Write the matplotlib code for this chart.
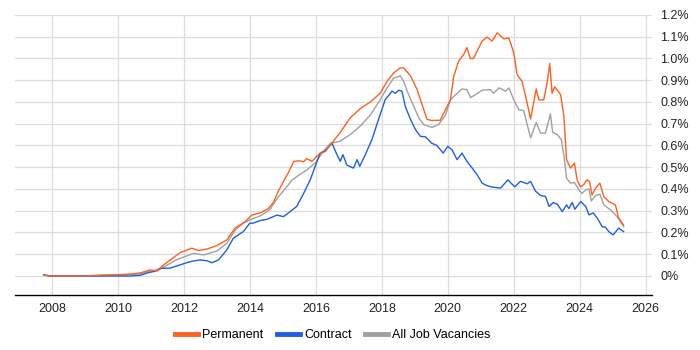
import matplotlib.pyplot as plt
from matplotlib.lines import Line2D

plt.switch_backend('Agg')
plt.rcParams['font.family'] = ['Liberation Sans', 'DejaVu Sans']

# Valores (ano decimal, % das vagas)
perm_anos = [2007.75, 2008.0, 2009.0, 2009.5, 2010.0, 2010.37, 2010.67, 2010.97, 2011.18, 2011.38,
             2011.6, 2011.88, 2012.24, 2012.44, 2012.7, 2013.0, 2013.3, 2013.55, 2013.86, 2014.06,
             2014.31, 2014.56, 2014.72, 2014.86, 2015.02, 2015.15, 2015.33, 2015.5, 2015.62, 2015.73,
             2015.88, 2016.13, 2016.34, 2016.74, 2017.04, 2017.35, 2017.65, 2017.95, 2018.16, 2018.36,
             2018.56, 2018.66, 2018.87, 2019.07, 2019.22, 2019.37, 2019.52, 2019.77, 2019.93, 2020.08,
             2020.18, 2020.33, 2020.48, 2020.58, 2020.68, 2020.78, 2020.89, 2021.04, 2021.19, 2021.34,
             2021.5, 2021.7, 2021.85, 2022.0, 2022.1, 2022.25, 2022.36, 2022.51, 2022.68, 2022.76,
             2022.91, 2023.01, 2023.09, 2023.16, 2023.24, 2023.42, 2023.52, 2023.6, 2023.72, 2023.84,
             2023.92, 2024.02, 2024.12, 2024.22, 2024.3, 2024.37, 2024.48, 2024.61, 2024.73, 2024.88,
             2025.08, 2025.18, 2025.33]
perm_vals = [0.004, 0.0, 0.0, 0.004, 0.006, 0.009, 0.014, 0.028, 0.024, 0.05,
             0.075, 0.107, 0.128, 0.117, 0.124, 0.14, 0.166, 0.22, 0.25, 0.28,
             0.29, 0.31, 0.34, 0.39, 0.435, 0.47, 0.527, 0.53, 0.525, 0.54,
             0.527, 0.565, 0.584, 0.66, 0.727, 0.77, 0.80, 0.84, 0.895, 0.934,
             0.957, 0.957, 0.92, 0.857, 0.788, 0.72, 0.715, 0.716, 0.765, 0.81,
             0.918, 0.988, 1.018, 1.05, 1.0, 1.0, 1.034, 1.08, 1.098, 1.08,
             1.118, 1.09, 1.095, 1.026, 0.926, 0.895, 0.826, 0.722, 0.86, 0.81,
             0.81, 0.888, 0.977, 0.84, 0.87, 0.834, 0.734, 0.535, 0.496, 0.519,
             0.442, 0.41, 0.42, 0.442, 0.435, 0.373, 0.404, 0.427, 0.365, 0.342,
             0.327, 0.266, 0.235]

contr_anos = [2007.75, 2007.9, 2009.5, 2010.37, 2010.67, 2010.87, 2011.07, 2011.28, 2011.58, 2011.78,
              2012.19, 2012.49, 2012.7, 2012.85, 2013.05, 2013.3, 2013.5, 2013.8, 2014.0, 2014.1,
              2014.31, 2014.51, 2014.82, 2015.02, 2015.22, 2015.42, 2015.63, 2015.83, 2015.98, 2016.13,
              2016.28, 2016.49, 2016.64, 2016.74, 2016.82, 2016.94, 2017.14, 2017.25, 2017.33, 2017.5,
              2017.7, 2017.9, 2018.1, 2018.31, 2018.41, 2018.51, 2018.61, 2018.71, 2018.87, 2019.02,
              2019.17, 2019.32, 2019.52, 2019.67, 2019.86, 2020.0, 2020.13, 2020.28, 2020.43, 2020.58,
              2020.74, 2020.89, 2021.04, 2021.19, 2021.34, 2021.6, 2021.82, 2022.03, 2022.2, 2022.41,
              2022.51, 2022.66, 2022.81, 2022.96, 2023.07, 2023.2, 2023.32, 2023.47, 2023.6, 2023.67,
              2023.77, 2023.85, 2024.03, 2024.18, 2024.28, 2024.41, 2024.53, 2024.68, 2024.78, 2024.88,
              2025.01, 2025.18, 2025.33]
contr_vals = [0.006, 0.0, 0.0, 0.0, 0.003, 0.013, 0.02, 0.035, 0.036, 0.046,
              0.066, 0.074, 0.07, 0.061, 0.074, 0.12, 0.174, 0.204, 0.243, 0.243,
              0.255, 0.26, 0.28, 0.273, 0.296, 0.32, 0.38, 0.442, 0.504, 0.565,
              0.573, 0.61, 0.558, 0.527, 0.558, 0.51, 0.496, 0.535, 0.504, 0.558,
              0.627, 0.72, 0.81, 0.85, 0.84, 0.854, 0.85, 0.78, 0.72, 0.673,
              0.642, 0.64, 0.61, 0.6, 0.565, 0.596, 0.58, 0.535, 0.565, 0.527,
              0.496, 0.465, 0.427, 0.415, 0.409, 0.404, 0.442, 0.41, 0.435, 0.424,
              0.435, 0.39, 0.37, 0.366, 0.32, 0.338, 0.33, 0.296, 0.327, 0.31,
              0.338, 0.307, 0.342, 0.32, 0.281, 0.29, 0.266, 0.227, 0.224, 0.204,
              0.189, 0.22, 0.204]

todas_anos = [2007.75, 2008.0, 2009.5, 2010.37, 2010.67, 2010.97, 2011.18, 2011.38, 2011.78, 2012.29,
              2012.6, 2013.0, 2013.3, 2013.55, 2013.8, 2014.0, 2014.31, 2014.6, 2014.87, 2015.12,
              2015.27, 2015.42, 2015.73, 2015.98, 2016.23, 2016.44, 2016.74, 2016.94, 2017.04, 2017.35,
              2017.65, 2017.95, 2018.16, 2018.36, 2018.56, 2018.66, 2018.81, 2018.97, 2019.12, 2019.27,
              2019.52, 2019.72, 2019.93, 2020.08, 2020.28, 2020.43, 2020.58, 2020.69, 2020.84, 2021.04,
              2021.29, 2021.39, 2021.55, 2021.75, 2021.85, 2022.0, 2022.15, 2022.3, 2022.51, 2022.68,
              2022.81, 2022.96, 2023.11, 2023.18, 2023.32, 2023.44, 2023.52, 2023.6, 2023.72, 2023.84,
              2023.97, 2024.07, 2024.18, 2024.28, 2024.35, 2024.48, 2024.61, 2024.73, 2024.93, 2025.13,
              2025.33]
todas_vals = [0.004, 0.0, 0.002, 0.006, 0.01, 0.022, 0.022, 0.04, 0.075, 0.104,
              0.097, 0.115, 0.15, 0.21, 0.243, 0.258, 0.276, 0.304, 0.365, 0.41,
              0.44, 0.457, 0.488, 0.52, 0.573, 0.61, 0.62, 0.64, 0.65, 0.69,
              0.74, 0.81, 0.865, 0.91, 0.92, 0.895, 0.834, 0.78, 0.727, 0.696,
              0.683, 0.696, 0.74, 0.81, 0.84, 0.86, 0.857, 0.82, 0.834, 0.854,
              0.857, 0.84, 0.865, 0.85, 0.865, 0.81, 0.765, 0.76, 0.635, 0.706,
              0.657, 0.657, 0.745, 0.66, 0.65, 0.627, 0.553, 0.45, 0.427, 0.43,
              0.396, 0.38, 0.396, 0.4, 0.345, 0.37, 0.376, 0.327, 0.304, 0.273,
              0.227]

anos_ticks = [2008, 2010, 2012, 2014, 2016, 2018, 2020, 2022, 2024, 2026]
pct_ticks = [0.0, 0.1, 0.2, 0.3, 0.4, 0.5, 0.6, 0.7, 0.8, 0.9, 1.0, 1.1, 1.2]

cor_perm = '#ff5f1f'
cor_contr = '#1f5fe0'
cor_todas = '#a0a0a0'

fig = plt.figure(figsize=(7, 3.5), dpi=100)
ax = fig.add_axes([15 / 700, 1 - 295 / 350, 637 / 700, 280 / 350])

ax.plot(todas_anos, todas_vals, color=cor_todas, linewidth=1.0, zorder=3)
ax.plot(contr_anos, contr_vals, color=cor_contr, linewidth=1.0, zorder=4)
ax.plot(perm_anos, perm_vals, color=cor_perm, linewidth=1.0, zorder=5)

ax.set_xlim(2006.88, 2026.19)
ax.set_ylim(-0.0874, 1.2)

ax.set_xticks(anos_ticks)
ax.set_xticklabels([str(a) for a in anos_ticks])
ax.set_yticks(pct_ticks)
ax.set_yticklabels(['0%' if v == 0 else f'{v:.1f}%' for v in pct_ticks])
ax.yaxis.tick_right()
ax.tick_params(axis='both', length=0, labelsize=9, colors='#222222')
ax.tick_params(axis='y', pad=6)
ax.tick_params(axis='x', pad=6)

# Grade
ax.grid(True, color='#dddddd', linewidth=0.9)
ax.set_axisbelow(True)
for lado in ['top', 'left', 'right']:
    ax.spines[lado].set_visible(False)
ax.spines['bottom'].set_color('black')
ax.spines['bottom'].set_linewidth(1.0)

handles = [Line2D([0], [0], color=cor_perm, linewidth=3.5),
           Line2D([0], [0], color=cor_contr, linewidth=3.5),
           Line2D([0], [0], color=cor_todas, linewidth=3.5)]
fig.legend(handles, ['Permanent', 'Contract', 'All Job Vacancies'], loc='center',
           bbox_to_anchor=(333 / 700, 1 - 335 / 350), ncol=3, frameon=False,
           fontsize=9, handlelength=1.8, handletextpad=0.35, columnspacing=1.1)

plt.savefig('out.png', dpi=100)
plt.close()
